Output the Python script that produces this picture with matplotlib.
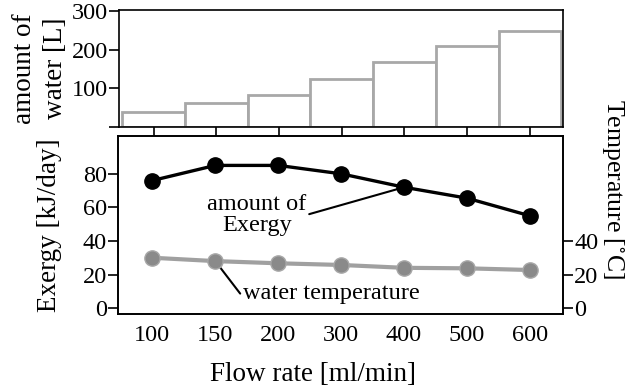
import matplotlib.pyplot as plt
import numpy as np

plt.rcParams['font.family'] = ['Liberation Serif', 'DejaVu Serif']
plt.rcParams['mathtext.fontset'] = 'stix'

# data
flow_rates = ['100', '150', '200', '300', '400', '500', '600']
water_amount = [40, 61, 82, 124, 167, 208, 248]      # L
exergy = [76, 85, 85, 80, 72, 65.5, 55]              # kJ/day
water_temp = [30, 28, 26.7, 25.7, 24, 23.7, 22.7]    # degC

x = np.arange(len(flow_rates))
fs = 17.5      # tick labels
lfs = 19.5     # axis labels
afs = 17.5     # annotations

fig = plt.figure(figsize=(6.4, 3.92), dpi=100)
ax_top = fig.add_axes([0.186, 0.676, 0.694, 0.2985])
ax = fig.add_axes([0.184, 0.199, 0.696, 0.454])

# top: amount of water
ax_top.bar(x, water_amount, width=1.0, color='white', edgecolor='#a8a8a8',
           linewidth=2.0, zorder=2)
ax_top.set_xlim(-0.55, 6.53)
ax_top.set_ylim(0, 302)
ax_top.set_yticks([0, 100, 200, 300])
ax_top.set_yticklabels(['', '100', '200', '300'])
ax_top.set_xticks(x)
ax_top.set_xticklabels([])
ax_top.tick_params(axis='y', direction='out', length=7, width=1.2, labelsize=fs, pad=1)
ax_top.tick_params(axis='x', direction='out', length=9, width=1.2)
ax_top.set_ylabel('amount of\nwater [L]', fontsize=lfs, linespacing=1.3, labelpad=3)
for s in ax_top.spines.values():
    s.set_linewidth(1.2)

# bottom: exergy and temperature
ax.plot(x, exergy, color='black', linewidth=2.4, marker='o', markersize=11,
        markerfacecolor='black', zorder=4)
ax2 = ax.twinx()
ax2.plot(x, water_temp, color='#a0a0a0', linewidth=3, marker='o', markersize=11,
         markerfacecolor='#8a8a8a', markeredgecolor='#a8a8a8', zorder=3)

ax.set_xlim(-0.55, 6.53)
ax.set_ylim(-3.5, 102.5)
ax2.set_ylim(-3.5, 102.5)
ax.set_yticks([0, 20, 40, 60, 80])
ax2.set_yticks([0, 20, 40])
ax.set_xticks(x)
ax.set_xticklabels(flow_rates)
ax.tick_params(axis='y', direction='out', length=7, width=1.2, labelsize=fs, pad=1)
ax.tick_params(axis='x', length=0, labelsize=fs, pad=8)
ax2.tick_params(axis='y', direction='out', length=7, width=1.2, labelsize=fs, pad=1)
for a in (ax, ax2):
    for s in a.spines.values():
        s.set_linewidth(1.2)

ax.set_xlabel('Flow rate [ml/min]', fontsize=lfs)
ax.xaxis.set_label_coords(0.438, -0.27)
ax.set_ylabel('Exergy [kJ/day]', fontsize=lfs, labelpad=15)
ax2.set_ylabel('Temperature [$^{\\circ}$C]', fontsize=18.5, rotation=270,
               labelpad=20, y=0.70)

ax.annotate('amount of\nExergy', xy=(4, exergy[4]), xytext=(1.66, 55.5),
            fontsize=afs, ha='center', va='center', linespacing=1.0,
            arrowprops=dict(arrowstyle='-', color='black', lw=1.5,
                            shrinkA=0, shrinkB=0, relpos=(1.0, 0.5)))
ax.annotate('water temperature', xy=(1.0, water_temp[1]), xytext=(1.44, 9),
            fontsize=afs, ha='left', va='center',
            arrowprops=dict(arrowstyle='-', color='black', lw=1.5,
                            shrinkA=0, shrinkB=0, relpos=(0.0, 0.3)))

fig.savefig('out.png', dpi=100)
